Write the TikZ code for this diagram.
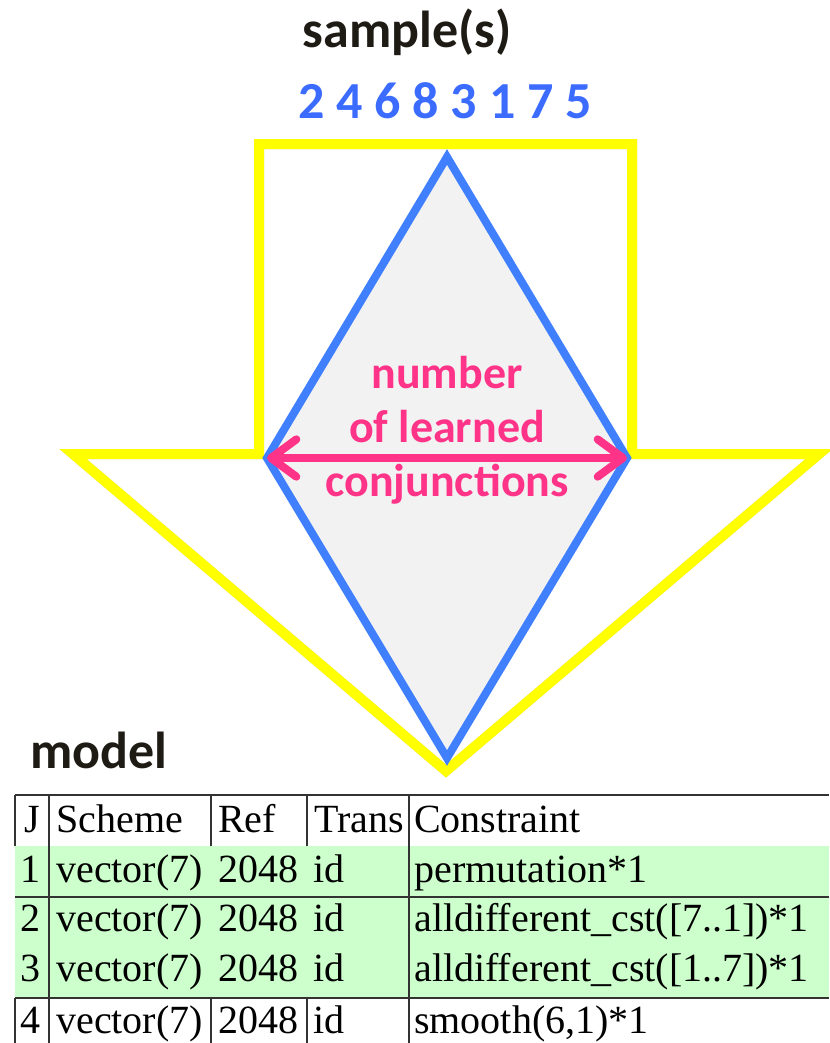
\documentclass[tikz,border=0pt]{standalone}
\usepackage{fontspec}
\setmainfont{Liberation Serif}
\newfontfamily\carl{Carlito}
\usetikzlibrary{arrows.meta}
\definecolor{armyellow}{HTML}{FFFF00}
\definecolor{diablue}{HTML}{4080FF}
\definecolor{digblue}{HTML}{3B6CFF}
\definecolor{conjpink}{HTML}{FF3388}
\definecolor{rowgreen}{HTML}{CCFFCC}
\definecolor{inkdark}{HTML}{1E1B14}
\definecolor{rulegray}{HTML}{333333}
\tikzset{
  arm/.style={draw=armyellow,line width=7.5pt,miter limit=20},
  drop/.style={draw=black,opacity=0.18,line width=7.5pt,miter limit=20},
  lozenge/.style={draw=diablue,fill=black!5,line width=6pt,miter limit=20},
  conj/.style={draw=conjpink,line width=6pt,{Straight Barb[length=19pt,width=28pt,round]}-{Straight Barb[length=19pt,width=28pt,round]}},
  heading/.style={inner sep=0,anchor=base,text=inkdark,font=\carl\bfseries\fontsize{39}{47}\selectfont},
  pinktext/.style={inner sep=0,anchor=base,text=conjpink,font=\carl\bfseries\fontsize{34.5}{41}\selectfont},
  cell/.style={inner sep=0,anchor=base west,font=\fontsize{30}{36}\selectfont},
  rule/.style={draw=rulegray,line width=1.1pt}
}
\begin{document}
\begin{tikzpicture}[x=0.75pt,y=-0.75pt]
  \useasboundingbox (0,0) rectangle (829,1043);
  \coordinate (tl) at (259,144);
  \coordinate (tr) at (632,144);
  \coordinate (sr) at (632,454);
  \coordinate (pr) at (819,454);
  \coordinate (tip) at (446,771);
  \coordinate (pl) at (73,454);
  \coordinate (sl) at (259,454);
  \draw[drop,shift={(2,3)}] (tl) -- (tr) -- (sr) -- (pr) -- (tip) -- (pl) -- (sl) -- cycle;
  \draw[arm] (tl) -- (tr) -- (sr) -- (pr) -- (tip) -- (pl) -- (sl) -- cycle;
  \draw[lozenge]
    (447,157) coordinate (top)
    -- (267,458) coordinate (left)
    -- (447,758) coordinate (bottom)
    -- (627,458) coordinate (right) -- cycle;
  \draw[conj] (left) -- (right);
  \node[pinktext] (number) at (447,388) {number};
  \node[pinktext] (learned) at (447,442) {of learned};
  \node[pinktext] (conjunctions) at (447,496) {conjunctions};
  \node[heading] (samples) at (407,47) {sample(s)};
  \node[heading,text=digblue] (order) at (445,118) {2 4 6 8 3 1 7 5};
  \node[heading,anchor=base west] (model) at (30,768) {model};
  \fill[rowgreen] (15,846) rectangle (829,998);
  \draw[rule] (15,795) -- (829,795);
  \draw[rule] (15,897) -- (829,897);
  \draw[rule] (15,998) -- (829,998);
  \foreach \x in {15,49,211,307,409}
    \draw[rule] (\x,795) -- (\x,846) (\x,998) -- (\x,1043);
  \draw[rule] (49,846) -- (49,998) (409,846) -- (409,998);
  \node[cell,anchor=base] (hj) at (32,832) {J};
  \node[cell] (hscheme) at (56,832) {Scheme};
  \node[cell] (href) at (218,832) {Ref};
  \node[cell] (htrans) at (314,832) {Trans};
  \node[cell] (hcons) at (414,832) {Constraint};
  \foreach \j/\y/\c in {1/882/{permutation*1},2/931/{alldifferent\_cst([7..1])*1},3/981/{alldifferent\_cst([1..7])*1},4/1033/{smooth(6,1)*1}}{
    \node[cell,anchor=base] (j\j) at (31,\y) {\j};
    \node[cell] (scheme\j) at (56,\y) {vector(7)};
    \node[cell] (ref\j) at (218,\y) {2048};
    \node[cell] (trans\j) at (313,\y) {id};
    \node[cell] (cons\j) at (414,\y) {\c};
  }
\end{tikzpicture}
\end{document}
